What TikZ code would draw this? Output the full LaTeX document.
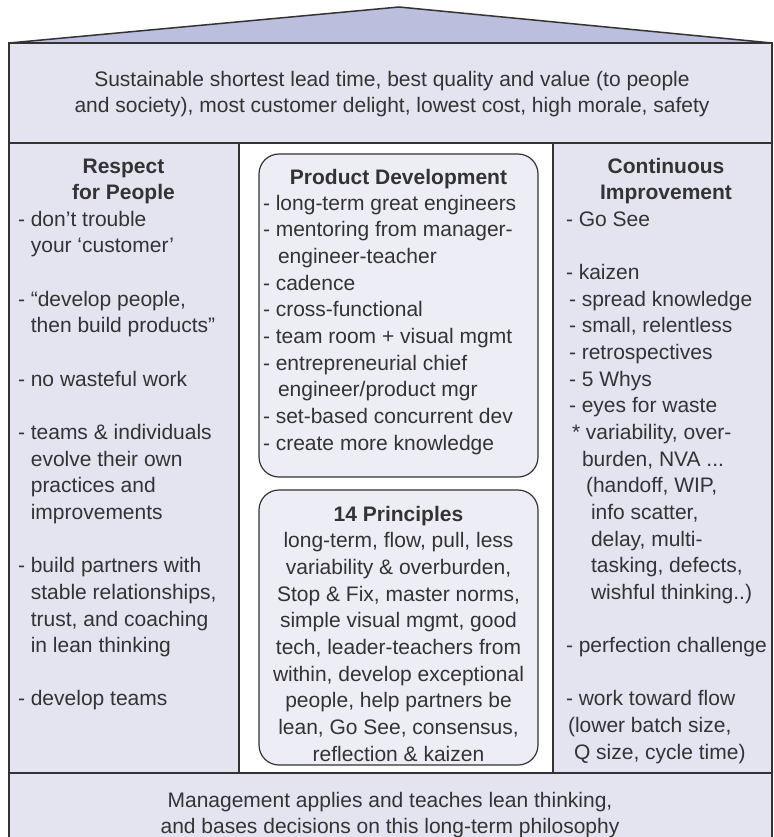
\documentclass[tikz,border=0pt]{standalone}
\usepackage{fontspec}
\setmainfont{Liberation Sans}
\definecolor{roofc}{HTML}{BBBEDD}
\definecolor{panelc}{HTML}{E4E4F1}
\definecolor{boxc}{HTML}{EDEDF6}
\definecolor{inkc}{HTML}{333333}
\newcommand{\ind}[1]{\hspace*{#1pt}}
\begin{document}
\begin{tikzpicture}[x=1pt,y=-1pt,
  txt/.style={font=\fontsize{21}{26.65}\selectfont, text=inkc, inner sep=0pt, outer sep=0pt},
  hdr/.style={txt, font=\fontsize{21}{26.65}\selectfont\bfseries, align=center, anchor=north},
  body/.style={txt, align=left, anchor=north west},
  ctext/.style={txt, align=center, anchor=north},
  edge/.style={draw=inkc, line width=1.8pt},
  rbox/.style={draw=inkc, line width=1.2pt, fill=boxc, rounded corners=20pt}]
\useasboundingbox (0,0) rectangle (773,837);
% roof
\fill[roofc] (9,43) -- (399,7) -- (772,43) -- cycle;
\draw[draw=inkc, line width=1.5pt, line join=round] (9,43) -- (399,7) -- (772,43);
% panels
\fill[panelc] (9,43) rectangle (772,143);
\fill[panelc] (9,143) rectangle (239,773);
\fill[white] (239,143) rectangle (553,773);
\fill[panelc] (553,143) rectangle (772,773);
\fill[panelc] (9,773) rectangle (772,845);
% frame lines
\draw[edge] (9,845) -- (9,43) -- (772,43) -- (772,845);
\draw[edge] (9,143) -- (772,143);
\draw[edge] (9,773) -- (772,773);
\draw[edge, line width=1.4pt] (239,143) -- (239,773);
\draw[edge, line width=1.4pt] (553,143) -- (553,773);
\draw[rbox] (259,154) rectangle (538,477);
\draw[rbox] (259,490) rectangle (538,765);
% top text
\node[ctext] (goal) at (392,67.6) {\strut Sustainable shortest lead time, best quality and value (to people\\
\strut and society), most customer delight, lowest cost, high morale, safety};
% left column
\node[hdr] (rfpH) at (123.5,154.6) {\strut Respect\\\strut for People};
\node[body] (rfp) at (18,207.6) {\strut - don’t trouble\\
\strut\phantom{- }your ‘customer’\\
\strut\\
\strut - “develop people,\\
\strut\phantom{- }then build products”\\
\strut\\
\strut - no wasteful work\\
\strut\\
\strut - teams \& individuals\\
\strut\phantom{- }evolve their own\\
\strut\phantom{- }practices and\\
\strut\phantom{- }improvements\\
\strut\\
\strut - build partners with\\
\strut\phantom{- }stable relationships,\\
\strut\phantom{- }trust, and coaching\\
\strut\phantom{- }in lean thinking\\
\strut\\
\strut - develop teams};
% right column
\node[hdr] (ciH) at (666,154.6) {\strut Continuous\\\strut Improvement};
\node[body] (ci) at (566,207.6) {\strut - Go See\\
\strut\\
\strut - kaizen\\
\strut\ind{3}- spread knowledge\\
\strut\ind{3}- small, relentless\\
\strut\ind{3}- retrospectives\\
\strut\ind{3}- 5 Whys\\
\strut\ind{3}- eyes for waste\\
\strut\ind{6}* variability, over-\\
\strut\ind{16}burden, NVA ...\\
\strut\ind{20}(handoff, WIP,\\
\strut\ind{25}info scatter,\\
\strut\ind{25}delay, multi-\\
\strut\ind{25}tasking, defects,\\
\strut\ind{25}wishful thinking..)\\
\strut\\
\strut - perfection challenge\\
\strut\\
\strut - work toward flow\\
\strut\ind{2}(lower batch size,\\
\strut\ind{8}Q size, cycle time)};
% product development
\node[hdr] (pdH) at (398.5,165.6) {\strut Product Development};
\node[body] (pd) at (263,191.6) {\strut - long-term great engineers\\
\strut - mentoring from manager-\\
\strut\ind{15}engineer-teacher\\
\strut - cadence\\
\strut - cross-functional\\
\strut - team room + visual mgmt\\
\strut - entrepreneurial chief\\
\strut\ind{15}engineer/product mgr\\
\strut - set-based concurrent dev\\
\strut - create more knowledge};
% 14 principles
\node[hdr] (fpH) at (398.5,502.6) {\strut 14 Principles};
\node[ctext] (fp) at (398.5,529.3) {\strut long-term, flow, pull, less\\
\strut variability \& overburden,\\
\strut Stop \& Fix, master norms,\\
\strut simple visual mgmt, good\\
\strut tech, leader-teachers from\\
\strut within, develop exceptional\\
\strut people, help partners be\\
\strut lean, Go See, consensus,\\
\strut reflection \& kaizen};
% bottom text
\node[ctext] (mgmt) at (390,788.6) {\strut Management applies and teaches lean thinking,\\
\strut and bases decisions on this long-term philosophy};
\end{tikzpicture}
\end{document}
